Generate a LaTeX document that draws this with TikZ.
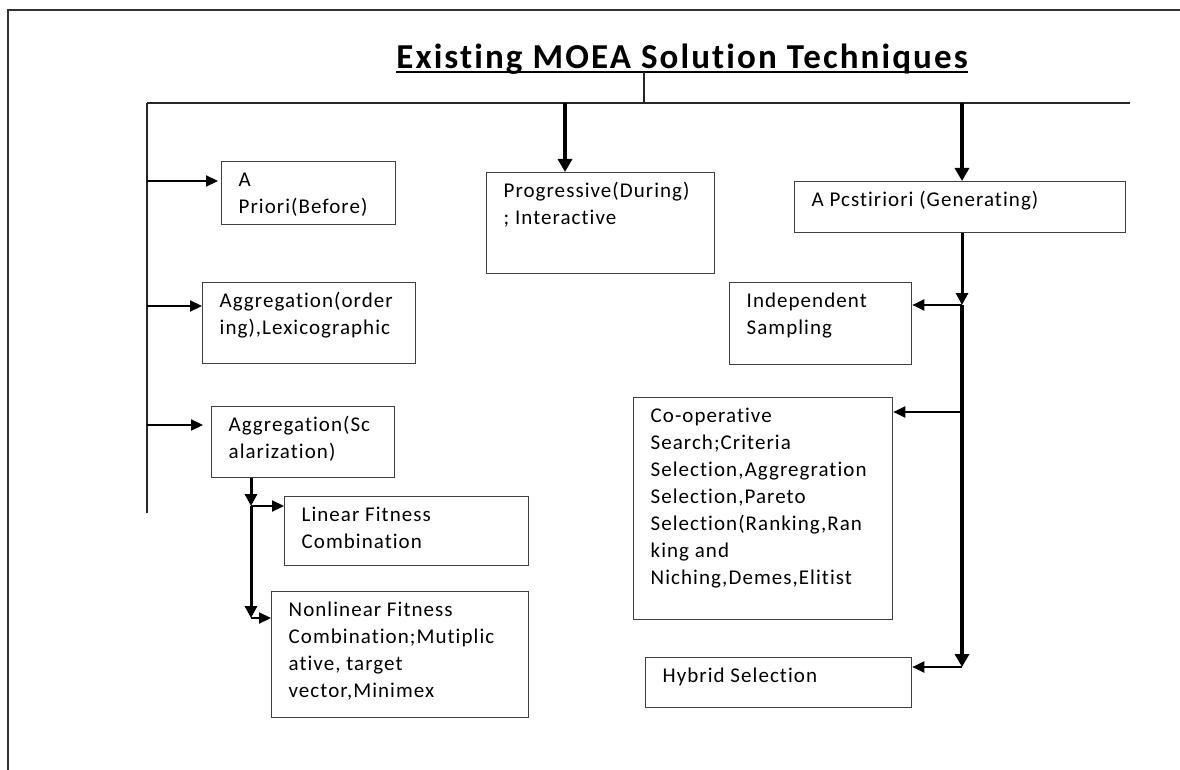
\documentclass[tikz,border=0pt]{standalone}
\usepackage{fontspec}
\setmainfont{Carlito}
\newfontfamily\boxfont{Carlito}[LetterSpace=5, Ligatures=NoCommon]
\newfontfamily\titlefont{Carlito}[LetterSpace=6, Ligatures=NoCommon]
\usetikzlibrary{arrows.meta, positioning, calc}
\newcommand{\celltext}[3]{\parbox[t][#2][t]{#1}{\raggedright\leftskip=17pt\rule{0pt}{25pt}#3}}

\begin{document}
\begin{tikzpicture}[x=1pt, y=-1pt,
  cbox/.style={draw=black!75, line width=1.3pt, inner sep=0pt, anchor=north west, font=\boxfont\fontsize{21}{27}\selectfont},
  thinline/.style={draw=black!85, line width=1.5pt},
  arr/.style={line width=2.2pt, -{Triangle[length=12pt, width=11pt]}},
  midarr/.style={line width=3pt, -{Triangle[length=12pt, width=12pt]}},
  bigarr/.style={line width=4.5pt, -{Triangle[length=13pt, width=14pt]}}
]
  \useasboundingbox (0,0) rectangle (1180,770);
  \draw[draw=black!80, line width=2pt] (1180,10) -- (8,10) -- (8,770);

  \node[anchor=base, inner sep=0pt, text depth=3pt, font=\titlefont\bfseries\fontsize{35}{40}\selectfont] (title) at (682,69) {Existing MOEA Solution Techniques};
  \draw[line width=2pt] (title.south west) -- (title.south east);

  \node[cbox] (apriori) at (221,161) {\celltext{174pt}{63pt}{A\\Priori(Before)}};
  \node[cbox] (aggord) at (202,282) {\celltext{213pt}{81pt}{Aggregation(order\\ing),Lexicographic}};
  \node[cbox] (scal) at (211,406) {\celltext{183pt}{71pt}{Aggregation(Sc\\alarization)}};
  \node[cbox] (lin) at (284,496) {\celltext{244pt}{69pt}{Linear Fitness\\Combination}};
  \node[cbox] (nonlin) at (271,591) {\celltext{257pt}{126pt}{Nonlinear Fitness\\Combination;Mutiplic\\ative, target\\vector,Minimex}};
  \node[cbox] (prog) at (486,172) {\celltext{228pt}{101pt}{Progressive(During)\\; Interactive}};
  \node[cbox] (post) at (794,181) {\celltext{331pt}{51pt}{A Pcstiriori (Generating)}};
  \node[cbox] (indep) at (729,282) {\celltext{182pt}{82pt}{Independent\\Sampling}};
  \node[cbox] (coop) at (633,397) {\celltext{259pt}{222pt}{Co-operative\\Search;Criteria\\Selection,Aggregration\\Selection,Pareto\\Selection(Ranking,Ran\\king and\\Niching,Demes,Elitist}};
  \node[cbox] (hyb) at (645,657) {\celltext{266pt}{50pt}{Hybrid Selection}};

  \coordinate (stem) at (644,103);
  \coordinate (barl) at (147,103);
  \coordinate (barr) at (1130,103);
  \coordinate (lend) at (147,513);
  \draw[thinline] (title.south -| stem) -- (stem);
  \draw[thinline] (barl) -- (barr);
  \draw[thinline] (barl) -- (lend);

  \coordinate (l1) at (147,181);
  \coordinate (l2) at (147,306);
  \coordinate (l3) at (147,425);
  \draw[arr, shorten >=3pt] (l1) -- (l1 -| apriori.west);
  \draw[arr] (l2) -- (l2 -| aggord.west);
  \draw[arr, shorten >=8pt] (l3) -- (l3 -| scal.west);

  \coordinate (s1) at (251,506);
  \coordinate (s2) at (251,618);
  \draw[midarr] (s1 |- scal.south) -- (s1);
  \draw[midarr] (s1) -- (s2);
  \draw[arr] (s1) -- (s1 -| lin.west);
  \draw[arr] (s2) -- (s2 -| nonlin.west);

  \coordinate (p1) at (565,103);
  \draw[bigarr] (p1) -- (p1 |- prog.north);

  \coordinate (r0) at (962,103);
  \coordinate (r1) at (962,305);
  \coordinate (r2) at (962,412);
  \coordinate (r3) at (962,667);
  \draw[bigarr] (r0) -- (r0 |- post.north);
  \draw[midarr] (r1 |- post.south) -- (r1);
  \draw[bigarr] (r1) -- (r3);
  \draw[arr] (r1) -- (r1 -| indep.east);
  \draw[arr] (r2) -- (r2 -| coop.east);
  \draw[arr] (r3) -- (r3 -| hyb.east);
\end{tikzpicture}
\end{document}
